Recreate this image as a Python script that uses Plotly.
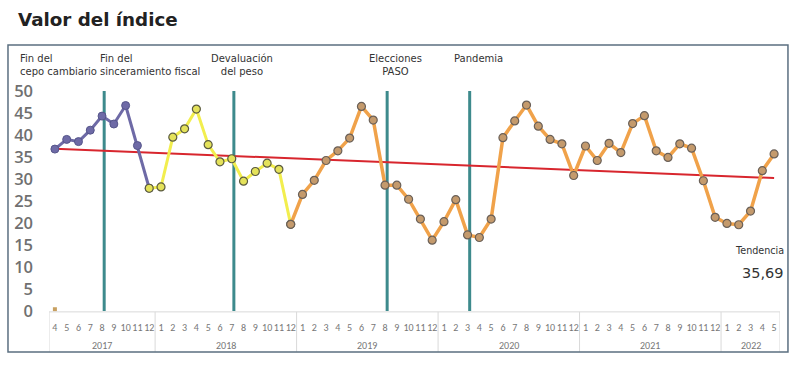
import plotly.graph_objects as go

# ---- data ----
years = [2017, 2018, 2019, 2020, 2021, 2022]
months_per_year = [[4, 5, 6, 7, 8, 9, 10, 11, 12],
                   list(range(1, 13)), list(range(1, 13)), list(range(1, 13)),
                   list(range(1, 13)), [1, 2, 3, 4, 5]]
month_labels = [str(m) for ms in months_per_year for m in ms]

values = [
    36.8, 39.0, 38.5, 41.1, 44.3, 42.5, 46.7, 37.6, 27.9,              # 2017
    28.2, 39.5, 41.4, 45.9, 37.8, 33.9, 34.6, 29.5, 31.7, 33.6, 32.2, 19.7,  # 2018
    26.5, 29.7, 34.2, 36.4, 39.3, 46.5, 43.4, 28.6, 28.6, 25.4, 20.9, 16.1,  # 2019
    20.3, 25.3, 17.3, 16.7, 20.9, 39.4, 43.2, 46.8, 42.0, 39.0, 38.0, 30.8,  # 2020
    37.5, 34.2, 38.1, 36.0, 42.6, 44.4, 36.4, 34.9, 38.0, 37.0, 29.6, 21.3,  # 2021
    19.9, 19.6, 22.7, 31.9, 35.69,                                      # 2022
]
# segment index ranges (inclusive)
purple_range = (0, 8)
yellow_range = (8, 20)
orange_range = (20, 61)

trend_x = [0, 61]
trend_y = [36.9, 30.2]

events = [
    ("Fin del<br>sinceramiento fiscal", 4),
    ("Devaluación<br>del peso", 15),
    ("Elecciones<br>PASO", 28),
    ("Pandemia", 35),
]
last_value_label = "35,69"

x_idx = list(range(len(values)))

fig = go.Figure()

def seg(rng):
    a, b = rng
    return x_idx[a:b + 1], values[a:b + 1]

fig.add_trace(go.Scatter(x=trend_x, y=trend_y, mode="lines",
                         line=dict(color="#d8262e", width=2), hoverinfo="skip"))

px_, py_ = seg(purple_range)
fig.add_trace(go.Scatter(x=px_, y=py_, mode="lines+markers",
                         line=dict(color="#6e6aa6", width=3),
                         marker=dict(size=8, color="#6e6aa6",
                                     line=dict(color="#55558a", width=1))))
yx, yy = seg(yellow_range)
fig.add_trace(go.Scatter(x=yx, y=yy, mode="lines+markers",
                         line=dict(color="#f2ee4e", width=3),
                         marker=dict(size=8, color="#e4e25a",
                                     line=dict(color="#5a5a40", width=1.2))))
ox, oy = seg(orange_range)
fig.add_trace(go.Scatter(x=ox, y=oy, mode="lines+markers",
                         line=dict(color="#f0a24a", width=3.5),
                         marker=dict(size=8, color="#c49a6c",
                                     line=dict(color="#6a6058", width=1.2))))
# small marker at origin
fig.add_trace(go.Scatter(x=[0], y=[0.4], mode="markers",
                         marker=dict(size=4, symbol="square", color="#c8a060"),
                         cliponaxis=False))

shapes = []
# event vertical lines
for _, xi in events:
    shapes.append(dict(type="line", xref="x", yref="y", x0=xi + 0.18, x1=xi + 0.18,
                       y0=0, y1=50, line=dict(color="#3d8a8c", width=3), layer="below"))

# category label grid
shapes.append(dict(type="line", xref="paper", yref="paper", x0=0, x1=1,
                   y0=-0.004, y1=-0.004, line=dict(color="#d9d9d9", width=1)))
bounds = [-0.5]
acc = -0.5
for ms in months_per_year:
    acc += len(ms)
    bounds.append(acc)
for b in bounds:
    shapes.append(dict(type="line", xref="x", yref="paper", x0=b, x1=b,
                       y0=-0.004, y1=-0.186, line=dict(color="#d9d9d9", width=1)))

# outer frame
shapes.append(dict(type="rect", xref="paper", yref="paper",
                   x0=-0.0561, x1=1.0109, y0=-0.186, y1=1.209,
                   line=dict(color="#5b6f80", width=1.5), fillcolor="rgba(0,0,0,0)"))

annotations = []
# year labels
start = 0
lab_font = dict(size=10, color="#777777", family="Carlito, Liberation Sans, sans-serif")
for yr, ms in zip(years, months_per_year):
    center = start + (len(ms) - 1) / 2
    annotations.append(dict(x=center, y=0, xref="x", yref="paper", yshift=-34,
                            yanchor="middle", text=str(yr), showarrow=False, font=lab_font))
    start += len(ms)

ann_font = dict(size=10, color="#333333", family="DejaVu Sans, sans-serif")
ann_y = 1.182
annotations.append(dict(x=-0.042, y=ann_y, xref="paper", yref="paper", xanchor="left",
                        yanchor="top", align="left", showarrow=False,
                        text="Fin del<br>cepo cambiario", font=ann_font))
for text, xi in events:
    if xi == 4:
        annotations.append(dict(x=0.0675, y=ann_y, xref="paper", yref="paper", xanchor="left",
                                yanchor="top", align="left", showarrow=False,
                                text=text, font=ann_font))
    else:
        annotations.append(dict(x=xi + 0.9, y=ann_y, xref="x", yref="paper", xanchor="center",
                                yanchor="top", align="center", showarrow=False,
                                text=text, font=ann_font))

annotations.append(dict(x=1.008, y=0.277, xref="paper", yref="paper", xanchor="right",
                        yanchor="middle", showarrow=False, text="Tendencia",
                        font=dict(size=9.6, color="#333333", family="DejaVu Sans, sans-serif")))
annotations.append(dict(x=1.008, y=0.173, xref="paper", yref="paper", xanchor="right",
                        yanchor="middle", showarrow=False, text=last_value_label,
                        font=dict(size=14.5, color="#333333", family="DejaVu Sans, sans-serif")))

fig.update_layout(
    width=800, height=365,
    margin=dict(l=49, r=20, t=91, b=54),
    paper_bgcolor="white", plot_bgcolor="white",
    showlegend=False,
    title=dict(text="<b>Valor del índice</b>", x=0.0225, xanchor="left", y=0.947, yanchor="middle",
               font=dict(size=18.3, color="#222222", family="DejaVu Sans, sans-serif")),
    shapes=shapes,
    annotations=annotations,
    xaxis=dict(range=[-0.5, 61.5], tickmode="array", tickvals=x_idx, ticktext=month_labels,
               showgrid=False, zeroline=False, showline=False, ticks="",
               tickangle=0, ticklabelstandoff=9, automargin=False,
               tickfont=lab_font),
    yaxis=dict(range=[0, 50], tickmode="array", tickvals=list(range(0, 55, 5)),
               showgrid=False, zeroline=False, showline=False, ticks="",
               ticklabelstandoff=15, automargin=False,
               tickfont=dict(size=16.5, color="#707070", family="Open Sans, sans-serif",
                             weight=600)),
)

fig.write_html("out.html", config={"displayModeBar": False},
               post_script="document.body.style.margin='0';")
